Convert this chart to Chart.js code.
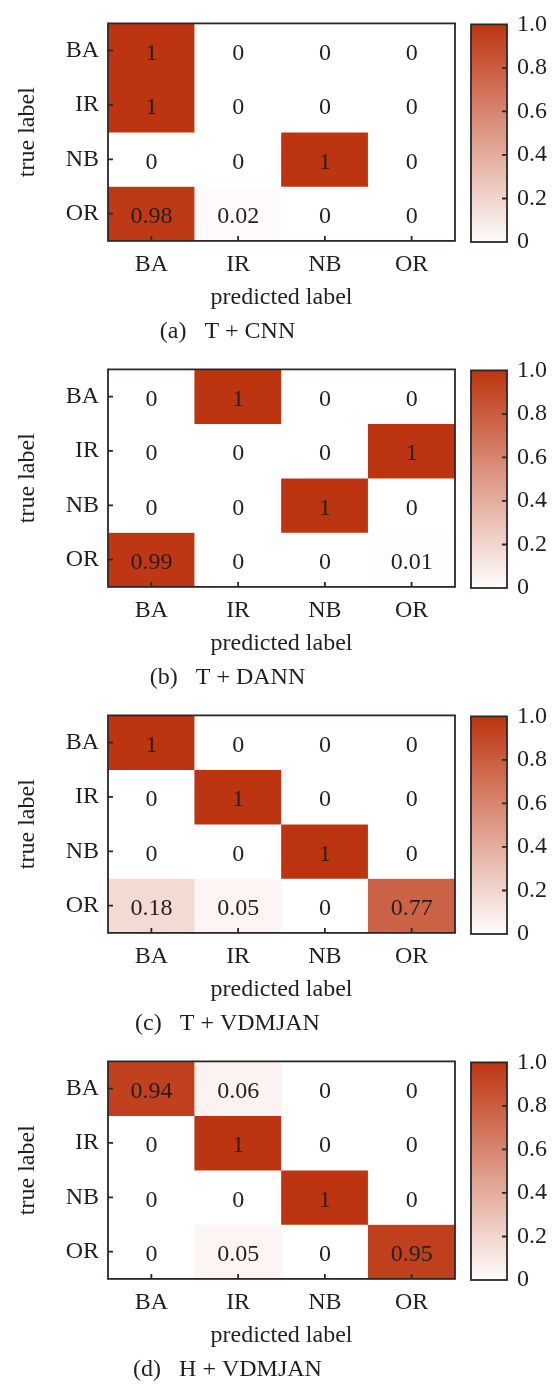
<!DOCTYPE html>
<html>
<head>
<meta charset="utf-8">
<script src="https://cdn.jsdelivr.net/npm/chart.js@4.4.1/dist/chart.umd.min.js"></script>
<style>
  body { margin: 0; background: #fff; }
  .panel { position: relative; width: 552px; height: 346px; }
  .panel canvas { position: absolute; top: 0; }
</style>
</head>
<body>
<div id="panels"></div>
<script>
const predictedLabels = ['BA', 'IR', 'NB', 'OR'];
const trueLabels = ['BA', 'IR', 'NB', 'OR'];

const matrixA = [[1, 0, 0, 0], [1, 0, 0, 0], [0, 0, 1, 0], [0.98, 0.02, 0, 0]];
const matrixB = [[0, 1, 0, 0], [0, 0, 0, 1], [0, 0, 1, 0], [0.99, 0, 0, 0.01]];
const matrixC = [[1, 0, 0, 0], [0, 1, 0, 0], [0, 0, 1, 0], [0.18, 0.05, 0, 0.77]];
const matrixD = [[0.94, 0.06, 0, 0], [0, 1, 0, 0], [0, 0, 1, 0], [0, 0.05, 0, 0.95]];

const captions = ['(a)   T + CNN', '(b)   T + DANN', '(c)   T + VDMJAN', '(d)   H + VDMJAN'];

const colorbarTicks = [0, 0.2, 0.4, 0.6, 0.8, 1];
const colorbarLabels = ['0', '0.2', '0.4', '0.6', '0.8', '1.0'];

const textColor = '#231f20';
const frameColor = '#2d2626';
const lowColor = [255, 255, 255];
const highColor = [189, 53, 16];
const fontFamily = '"Liberation Serif"';
const fontSize = 24;

Chart.defaults.font.family = fontFamily;
Chart.defaults.font.size = fontSize;
Chart.defaults.color = textColor;

function colorFor(v) {
    const c = lowColor.map((lo, k) => Math.round(lo + (highColor[k] - lo) * v));
    return `rgb(${c[0]},${c[1]},${c[2]})`;
}

// box around the plot area plus short inward tick marks
const framePlugin = {
    id: 'frame',
    afterDraw(chart, args, opts) {
        const { ctx, chartArea } = chart;
        const len = 5;
        ctx.save();
        ctx.strokeStyle = frameColor;
        ctx.lineWidth = 1.8;
        ctx.beginPath();
        if (opts.xTicks) {
            chart.scales.x.ticks.forEach((t, i) => {
                const x = chart.scales.x.getPixelForTick(i);
                ctx.moveTo(x, chartArea.bottom);
                ctx.lineTo(x, chartArea.bottom - len);
            });
        }
        if (opts.leftTicks) {
            chart.scales.y.ticks.forEach((t, i) => {
                const y = chart.scales.y.getPixelForTick(i);
                ctx.moveTo(chartArea.left, y);
                ctx.lineTo(chartArea.left + len, y);
            });
        }
        if (opts.rightTicks) {
            chart.scales.y.ticks.forEach(t => {
                if (t.value <= 0 || t.value >= 1) return;
                const y = chart.scales.y.getPixelForValue(t.value);
                ctx.moveTo(chartArea.right, y);
                ctx.lineTo(chartArea.right - len, y);
            });
        }
        ctx.stroke();
        ctx.strokeRect(chartArea.left, chartArea.top, chartArea.right - chartArea.left, chartArea.bottom - chartArea.top);
        ctx.restore();
    }
};

// value printed in the middle of each cell
const cellTextPlugin = {
    id: 'cellText',
    afterDatasetsDraw(chart, args, opts) {
        const { ctx } = chart;
        ctx.save();
        ctx.fillStyle = textColor;
        ctx.font = `${fontSize}px ${fontFamily}`;
        ctx.textAlign = 'center';
        ctx.textBaseline = 'middle';
        opts.matrix.forEach((row, i) => {
            const meta = chart.getDatasetMeta(i);
            row.forEach((v, j) => {
                const el = meta.data[j];
                ctx.fillText(String(v), el.x, (el.y + el.base) / 2 + 3);
            });
        });
        ctx.restore();
    }
};

function makeHeatmap(canvas, matrix, caption) {
    const datasets = matrix.map((row, i) => ({
        data: predictedLabels.map(() => [i - 0.5, i + 0.5]),
        backgroundColor: row.map(colorFor),
        borderWidth: 0,
        barPercentage: 1,
        categoryPercentage: 1,
        grouped: false
    }));

    new Chart(canvas.getContext('2d'), {
        type: 'bar',
        data: { labels: predictedLabels, datasets },
        options: {
            responsive: false,
            animation: false,
            events: [],
            layout: { padding: { left: 0, top: 15, right: 97, bottom: 0 } },
            scales: {
                x: {
                    grid: { display: false, drawTicks: false },
                    border: { display: false },
                    ticks: { padding: 9 },
                    title: { display: true, text: 'predicted label', padding: 5 },
                    afterFit: scale => { scale.height = 76.7; }
                },
                y: {
                    type: 'linear',
                    min: -0.5,
                    max: 3.5,
                    reverse: true,
                    grid: { display: false, drawTicks: false },
                    border: { display: false },
                    afterBuildTicks: scale => {
                        scale.ticks = trueLabels.map((_, i) => ({ value: i }));
                    },
                    afterFit: scale => { scale.width = 108; },
                    ticks: { padding: 9, callback: v => trueLabels[v] },
                    title: { display: true, text: 'true label', padding: 13 }
                }
            },
            plugins: {
                legend: { display: false },
                tooltip: { enabled: false },
                title: {
                    display: true,
                    position: 'bottom',
                    text: caption,
                    color: textColor,
                    font: { size: fontSize, weight: 'normal', lineHeight: 1.1 },
                    padding: 1
                },
                frame: { xTicks: true, leftTicks: true },
                cellText: { matrix }
            }
        },
        plugins: [framePlugin, cellTextPlugin]
    });
}

function makeColorbar(canvas) {
    new Chart(canvas.getContext('2d'), {
        type: 'bar',
        data: {
            labels: [''],
            datasets: [{
                data: [[0, 1]],
                borderWidth: 0,
                barPercentage: 1,
                categoryPercentage: 1,
                backgroundColor: ctx => {
                    const chart = ctx.chart;
                    if (!chart.chartArea) return colorFor(0.5);
                    const y = chart.scales.y;
                    const g = chart.ctx.createLinearGradient(0, y.getPixelForValue(0), 0, y.getPixelForValue(1));
                    g.addColorStop(0, colorFor(0.01));
                    g.addColorStop(1, colorFor(1));
                    return g;
                }
            }]
        },
        options: {
            responsive: false,
            animation: false,
            events: [],
            layout: { padding: { left: 16, top: 15, right: 0, bottom: 104 } },
            scales: {
                x: { display: false },
                y: {
                    position: 'right',
                    min: 0,
                    max: 1,
                    grid: { display: false, drawTicks: false },
                    border: { display: false },
                    afterBuildTicks: scale => {
                        scale.ticks = colorbarTicks.map(v => ({ value: v }));
                    },
                    afterFit: scale => { scale.width = 45; },
                    ticks: {
                        padding: 10,
                        callback: v => colorbarLabels[colorbarTicks.indexOf(v)]
                    }
                }
            },
            plugins: {
                legend: { display: false },
                tooltip: { enabled: false },
                frame: { rightTicks: true }
            }
        },
        plugins: [framePlugin]
    });
}

const matrices = [matrixA, matrixB, matrixC, matrixD];
const holder = document.getElementById('panels');

matrices.forEach((m, k) => {
    const panel = document.createElement('div');
    panel.className = 'panel';
    const main = document.createElement('canvas');
    main.width = 552;
    main.height = 346;
    main.style.left = '0px';
    const bar = document.createElement('canvas');
    bar.width = 97;
    bar.height = 346;
    bar.style.left = '455px';
    panel.appendChild(main);
    panel.appendChild(bar);
    holder.appendChild(panel);
    makeHeatmap(main, m, captions[k]);
    makeColorbar(bar);
});
</script>
</body>
</html>
